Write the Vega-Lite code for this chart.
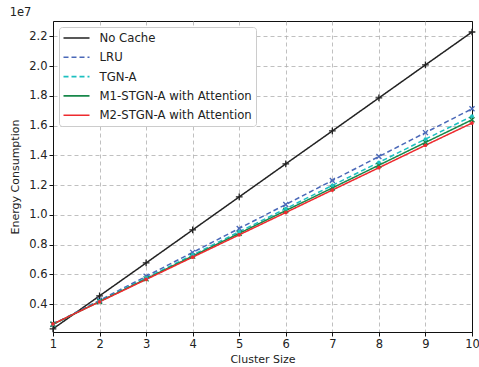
{
  "$schema": "https://vega.github.io/schema/vega-lite/v6.json",
  "width": 419,
  "height": 311,
  "autosize": {"type": "none"},
  "padding": {"left": 53, "top": 21, "right": 7, "bottom": 35},
  "title": {"text": "1e7", "anchor": "start", "fontSize": 11.5, "font": "DejaVu Sans", "fontWeight": "normal", "offset": 3, "color": "#222"},
  "config": {
    "font": "DejaVu Sans",
    "view": {"stroke": "#111", "strokeWidth": 1},
    "axis": {
      "domainColor": "#111", "tickColor": "#111", "labelColor": "#222", "titleColor": "#222",
      "labelFontSize": 11.5, "titleFontSize": 11, "titleFontWeight": "normal",
      "gridColor": "#b0b0b0", "gridDash": [4, 3], "gridWidth": 0.8, "tickSize": 4, "labelFlush": false
    },
    "legend": {
      "orient": "top-left", "offset": 6, "fillColor": "#ffffff", "strokeColor": "#cccccc",
      "cornerRadius": 3, "padding": 3.5, "labelFontSize": 11.7, "labelColor": "#222",
      "symbolType": "M-1,0L3,0", "symbolStrokeWidth": 1.6, "symbolSize": 169, "rowPadding": 4.3, "labelOffset": 22
    }
  },
  "data": {"values": [
    {"series": "No Cache", "x": 1, "y": 2340000},
    {"series": "No Cache", "x": 2, "y": 4560000},
    {"series": "No Cache", "x": 3, "y": 6770000},
    {"series": "No Cache", "x": 4, "y": 8990000},
    {"series": "No Cache", "x": 5, "y": 11210000},
    {"series": "No Cache", "x": 6, "y": 13430000},
    {"series": "No Cache", "x": 7, "y": 15640000},
    {"series": "No Cache", "x": 8, "y": 17860000},
    {"series": "No Cache", "x": 9, "y": 20080000},
    {"series": "No Cache", "x": 10, "y": 22290000},
    {"series": "LRU", "x": 1, "y": 2650000},
    {"series": "LRU", "x": 2, "y": 4260000},
    {"series": "LRU", "x": 3, "y": 5870000},
    {"series": "LRU", "x": 4, "y": 7480000},
    {"series": "LRU", "x": 5, "y": 9090000},
    {"series": "LRU", "x": 6, "y": 10700000},
    {"series": "LRU", "x": 7, "y": 12310000},
    {"series": "LRU", "x": 8, "y": 13920000},
    {"series": "LRU", "x": 9, "y": 15530000},
    {"series": "LRU", "x": 10, "y": 17130000},
    {"series": "TGN-A", "x": 1, "y": 2650000},
    {"series": "TGN-A", "x": 2, "y": 4200000},
    {"series": "TGN-A", "x": 3, "y": 5760000},
    {"series": "TGN-A", "x": 4, "y": 7310000},
    {"series": "TGN-A", "x": 5, "y": 8870000},
    {"series": "TGN-A", "x": 6, "y": 10420000},
    {"series": "TGN-A", "x": 7, "y": 11980000},
    {"series": "TGN-A", "x": 8, "y": 13530000},
    {"series": "TGN-A", "x": 9, "y": 15090000},
    {"series": "TGN-A", "x": 10, "y": 16630000},
    {"series": "M1-STGN-A with Attention", "x": 1, "y": 2650000},
    {"series": "M1-STGN-A with Attention", "x": 2, "y": 4180000},
    {"series": "M1-STGN-A with Attention", "x": 3, "y": 5700000},
    {"series": "M1-STGN-A with Attention", "x": 4, "y": 7230000},
    {"series": "M1-STGN-A with Attention", "x": 5, "y": 8760000},
    {"series": "M1-STGN-A with Attention", "x": 6, "y": 10290000},
    {"series": "M1-STGN-A with Attention", "x": 7, "y": 11810000},
    {"series": "M1-STGN-A with Attention", "x": 8, "y": 13340000},
    {"series": "M1-STGN-A with Attention", "x": 9, "y": 14870000},
    {"series": "M1-STGN-A with Attention", "x": 10, "y": 16390000},
    {"series": "M2-STGN-A with Attention", "x": 1, "y": 2670000},
    {"series": "M2-STGN-A with Attention", "x": 2, "y": 4160000},
    {"series": "M2-STGN-A with Attention", "x": 3, "y": 5660000},
    {"series": "M2-STGN-A with Attention", "x": 4, "y": 7160000},
    {"series": "M2-STGN-A with Attention", "x": 5, "y": 8660000},
    {"series": "M2-STGN-A with Attention", "x": 6, "y": 10160000},
    {"series": "M2-STGN-A with Attention", "x": 7, "y": 11670000},
    {"series": "M2-STGN-A with Attention", "x": 8, "y": 13170000},
    {"series": "M2-STGN-A with Attention", "x": 9, "y": 14680000},
    {"series": "M2-STGN-A with Attention", "x": 10, "y": 16170000}
  ]},
  "encoding": {
    "x": {"field": "x", "type": "quantitative", "title": "Cluster Size",
      "scale": {"domain": [1, 10], "nice": false, "zero": false},
      "axis": {"values": [1,2,3,4,5,6,7,8,9,10], "format": "d", "titlePadding": 4,
        "gridColor": {"condition": {"test": "datum.value == 10", "value": "#111111"}, "value": "#b0b0b0"},
        "gridDash": {"condition": {"test": "datum.value == 10", "value": [1, 0]}, "value": [4, 3]},
        "gridWidth": {"condition": {"test": "datum.value == 10", "value": 1}, "value": 0.8}}},
    "y": {"field": "y", "type": "quantitative", "title": "Energy Consumption",
      "scale": {"domain": [2130000, 23030000], "nice": false, "zero": false},
      "axis": {"values": [4000000,6000000,8000000,10000000,12000000,14000000,16000000,18000000,20000000,22000000],
        "labelExpr": "format(datum.value/1e7, '.1f')", "titlePadding": 8}},
    "color": {"field": "series", "type": "nominal", "title": null,
      "sort": ["No Cache", "LRU", "TGN-A", "M1-STGN-A with Attention", "M2-STGN-A with Attention"],
      "scale": {"domain": ["No Cache", "LRU", "TGN-A", "M1-STGN-A with Attention", "M2-STGN-A with Attention"],
        "range": ["#222222", "#4a68b8", "#1cc0c0", "#17884a", "#ee2a2e"]}}
  },
  "layer": [
    {
      "mark": {"type": "line", "strokeWidth": 1.5},
      "encoding": {
        "strokeDash": {"field": "series", "type": "nominal", "title": null,
          "sort": ["No Cache", "LRU", "TGN-A", "M1-STGN-A with Attention", "M2-STGN-A with Attention"],
          "scale": {"domain": ["No Cache", "LRU", "TGN-A", "M1-STGN-A with Attention", "M2-STGN-A with Attention"],
            "range": [[1,0], [5,3], [5,3], [1,0], [1,0]]}}
      }
    },
    {
      "transform": [{"filter": {"field": "series", "oneOf": ["No Cache", "LRU", "M1-STGN-A with Attention"]}}],
      "mark": {"type": "point", "filled": false, "strokeWidth": 1.3, "opacity": 1, "size": 45},
      "encoding": {
        "shape": {"field": "series", "type": "nominal", "legend": null,
          "scale": {"domain": ["No Cache", "LRU", "M1-STGN-A with Attention"],
            "range": ["M-1,0L1,0M0,-1L0,1", "M-0.75,-0.75L0.75,0.75M-0.75,0.75L0.75,-0.75", "M-0.75,-0.75L0.75,0.75M-0.75,0.75L0.75,-0.75"]}}
      }
    },
    {
      "transform": [{"filter": {"field": "series", "oneOf": ["TGN-A", "M2-STGN-A with Attention"]}}],
      "mark": {"type": "circle", "size": 14, "opacity": 1}
    }
  ]
}
